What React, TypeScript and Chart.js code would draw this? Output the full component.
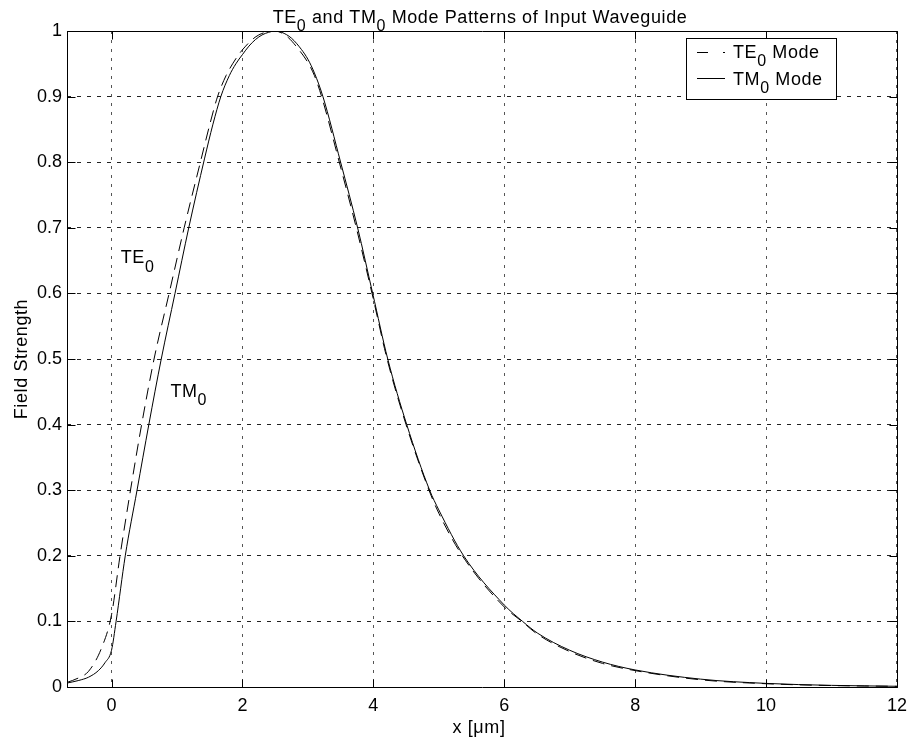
import React, { useEffect, useRef } from "react";
import { Chart, registerables } from "chart.js";

Chart.register(...registerables);

// ---- data ----
const tmX = [-0.68, -0.5, -0.35, -0.2, -0.1, 0, 0.07, 0.21, 0.39, 0.57, 0.76, 0.97, 1.18, 1.42, 1.55, 1.67, 1.8, 1.9, 2.0, 2.1, 2.2, 2.3, 2.4, 2.5, 2.6, 2.75, 2.9, 3.0, 3.1, 3.23, 3.5, 3.76, 3.99, 4.22, 4.51, 4.86, 5.0, 5.38, 6.0, 6.28, 6.51, 7.0, 7.5, 8.0, 9.0, 10.0, 11.0, 12.0];
const tmY = [0.006, 0.010, 0.015, 0.025, 0.037, 0.056, 0.10, 0.20, 0.30, 0.40, 0.50, 0.60, 0.70, 0.805, 0.858, 0.90, 0.932, 0.95, 0.964, 0.977, 0.987, 0.994, 0.998, 1.0, 0.998, 0.989, 0.972, 0.957, 0.936, 0.90, 0.80, 0.70, 0.60, 0.50, 0.40, 0.30, 0.27, 0.20, 0.125, 0.10, 0.082, 0.056, 0.038, 0.026, 0.012, 0.0055, 0.0025, 0.0011];

const teX = [-0.68, -0.5, -0.35, -0.15, 0, 0.13, 0.29, 0.46, 0.65, 0.88, 1.11, 1.37, 1.5, 1.62, 1.75, 1.85, 1.95, 2.05, 2.15, 2.25, 2.35, 2.45, 2.55, 2.7, 2.85, 3.0, 3.1, 3.21, 3.48, 3.74, 3.98, 4.21, 4.5, 4.85, 5.0, 5.36, 6.0, 6.27, 6.5, 7.0, 7.5, 8.0, 9.0, 10.0, 11.0, 12.0];
const teY = [0.007, 0.014, 0.024, 0.06, 0.11, 0.20, 0.30, 0.40, 0.50, 0.60, 0.70, 0.805, 0.857, 0.90, 0.932, 0.95, 0.965, 0.977, 0.987, 0.994, 0.998, 1.0, 0.999, 0.99, 0.973, 0.952, 0.932, 0.90, 0.80, 0.70, 0.60, 0.50, 0.40, 0.30, 0.265, 0.20, 0.122, 0.10, 0.081, 0.054, 0.036, 0.025, 0.011, 0.005, 0.0022, 0.001];

const xTickValues = [0, 2, 4, 6, 8, 10, 12];
const yTickValues = [0, 0.1, 0.2, 0.3, 0.4, 0.5, 0.6, 0.7, 0.8, 0.9, 1];
const xMin = -0.68;
const xMax = 12;
const yMin = 0;
const yMax = 1;

const titleParts: [string, boolean][] = [["TE", false], ["0", true], [" and TM", false], ["0", true], [" Mode Patterns of Input Waveguide", false]];
const xAxisLabel = "x [\u03bcm]";
const yAxisLabel = "Field Strength";
const legendEntries: { parts: [string, boolean][]; dashed: boolean }[] = [
  { parts: [["TE", false], ["0", true], [" Mode", false]], dashed: true },
  { parts: [["TM", false], ["0", true], [" Mode", false]], dashed: false },
];
const annotationText: [string, boolean][][] = [
  [["TE", false], ["0", true]],
  [["TM", false], ["0", true]],
];
const annotationX = [0.14, 0.9];
const annotationY = [0.646, 0.4425];

const FONT = "'Liberation Sans', Arial, Helvetica, sans-serif";
const FS = 18;
const SUBFS = 16;
const SUBSHIFT = 8.5;
const LS = "0.6px";

function setFont(ctx: CanvasRenderingContext2D, size: number) {
  ctx.font = `${size}px ${FONT}`;
  (ctx as any).letterSpacing = LS;
}

function partsWidth(ctx: CanvasRenderingContext2D, parts: [string, boolean][]) {
  let w = 0;
  for (const [t, sub] of parts) {
    setFont(ctx, sub ? SUBFS : FS);
    w += ctx.measureText(t).width;
  }
  return w;
}

function drawParts(ctx: CanvasRenderingContext2D, parts: [string, boolean][], x: number, y: number) {
  let cx = x;
  ctx.textAlign = "left";
  ctx.textBaseline = "alphabetic";
  for (const [t, sub] of parts) {
    setFont(ctx, sub ? SUBFS : FS);
    ctx.fillText(t, cx, sub ? y + SUBSHIFT : y);
    cx += ctx.measureText(t).width;
  }
}

const decorPlugin = {
  id: "decor",
  afterDraw(chart: any) {
    const ctx: CanvasRenderingContext2D = chart.ctx;
    const { left, right, top, bottom } = chart.chartArea;
    const xs = chart.scales.x;
    const ys = chart.scales.y;
    ctx.save();
    ctx.fillStyle = "#000";
    ctx.strokeStyle = "#000";
    ctx.lineWidth = 1;
    ctx.setLineDash([]);

    // frame
    const L = Math.round(left) + 0.5;
    const R = Math.round(right) + 0.5;
    const T = Math.round(top) + 0.5;
    const B = Math.round(bottom) + 0.5;
    ctx.beginPath();
    ctx.rect(L, T, R - L, B - T);
    ctx.stroke();

    // inward ticks
    const tl = 8;
    ctx.beginPath();
    for (const v of xTickValues) {
      const px = Math.round(xs.getPixelForValue(v)) + 0.5;
      ctx.moveTo(px, B);
      ctx.lineTo(px, B - tl);
      ctx.moveTo(px, T);
      ctx.lineTo(px, T + tl);
    }
    for (const v of yTickValues) {
      const py = Math.round(ys.getPixelForValue(v)) + 0.5;
      ctx.moveTo(L, py);
      ctx.lineTo(L + tl, py);
      ctx.moveTo(R, py);
      ctx.lineTo(R - tl, py);
    }
    ctx.stroke();

    // title
    const tw = partsWidth(ctx, titleParts);
    drawParts(ctx, titleParts, (left + right) / 2 - tw / 2 - 2, 22.5);

    // x axis label
    setFont(ctx, FS);
    ctx.textAlign = "center";
    ctx.textBaseline = "alphabetic";
    ctx.fillText(xAxisLabel, (left + right) / 2 - 3, 733);

    // y axis label
    ctx.save();
    ctx.translate(27, (top + bottom) / 2);
    ctx.rotate(-Math.PI / 2);
    setFont(ctx, FS);
    ctx.textAlign = "center";
    ctx.fillText(yAxisLabel, 0, 0);
    ctx.restore();

    // annotations
    annotationText.forEach((parts, i) => {
      drawParts(ctx, parts, xs.getPixelForValue(annotationX[i]), ys.getPixelForValue(annotationY[i]));
    });

    // legend
    const bx = 686.5, by = 38.5, bw = 150, bh = 61;
    ctx.fillStyle = "#fff";
    ctx.fillRect(bx, by, bw, bh);
    ctx.strokeStyle = "#000";
    ctx.strokeRect(bx, by, bw, bh);
    ctx.fillStyle = "#000";
    legendEntries.forEach((e, i) => {
      const ly = 52.5 + i * 26;
      ctx.beginPath();
      ctx.setLineDash(e.dashed ? [11, 15] : []);
      ctx.moveTo(697, ly);
      ctx.lineTo(725, ly);
      ctx.stroke();
      ctx.setLineDash([]);
      drawParts(ctx, e.parts, 733, 57.5 + i * 27);
    });
    (ctx as any).letterSpacing = "0px";
    ctx.restore();
  },
};

export default function App() {
  const ref = useRef<HTMLCanvasElement | null>(null);
  useEffect(() => {
    if (!ref.current) return;
    const chart = new Chart(ref.current, {
      type: "line",
      data: {
        datasets: [
          {
            label: "TE0 Mode",
            data: teX.map((x, i) => ({ x, y: teY[i] })),
            borderColor: "#000",
            borderWidth: 1,
            borderDash: [12, 7],
            pointRadius: 0,
            fill: false,
            cubicInterpolationMode: "monotone",
          },
          {
            label: "TM0 Mode",
            data: tmX.map((x, i) => ({ x, y: tmY[i] })),
            borderColor: "#000",
            borderWidth: 1,
            pointRadius: 0,
            fill: false,
            cubicInterpolationMode: "monotone",
          },
        ],
      },
      options: {
        animation: false,
        responsive: true,
        maintainAspectRatio: false,
        events: [],
        layout: { padding: { top: 31, right: 15, left: 0, bottom: 0 } },
        plugins: {
          legend: { display: false },
          title: { display: false },
          tooltip: { enabled: false },
        },
        scales: {
          x: {
            type: "linear",
            min: xMin,
            max: xMax,
            afterBuildTicks: (s: any) => {
              s.ticks = xTickValues.map((v) => ({ value: v }));
            },
            afterFit: (s: any) => {
              s.height = 57;
            },
            ticks: {
              autoSkip: false,
              maxRotation: 0,
              padding: 8,
              color: "#000",
              font: { family: FONT, size: FS },
              callback: (v: any) => String(v),
            },
            grid: { color: "#555", lineWidth: 1, drawTicks: false },
            border: { display: false, dash: [3, 6] },
          },
          y: {
            type: "linear",
            min: yMin,
            max: yMax,
            afterBuildTicks: (s: any) => {
              s.ticks = yTickValues.map((v) => ({ value: v }));
            },
            afterFit: (s: any) => {
              s.width = 67;
            },
            ticks: {
              autoSkip: false,
              padding: 5,
              color: "#000",
              font: { family: FONT, size: FS },
              callback: (v: any) => String(Math.round(Number(v) * 10) / 10),
            },
            grid: { color: "#222", lineWidth: 1, drawTicks: false },
            border: { display: false, dash: [4, 6] },
          },
        },
      } as any,
      plugins: [decorPlugin],
    });
    return () => chart.destroy();
  }, []);
  return (
    <div style={{ position: "fixed", left: 0, top: 0, width: 915, height: 744, background: "#fff" }}>
      <canvas ref={ref} />
    </div>
  );
}
